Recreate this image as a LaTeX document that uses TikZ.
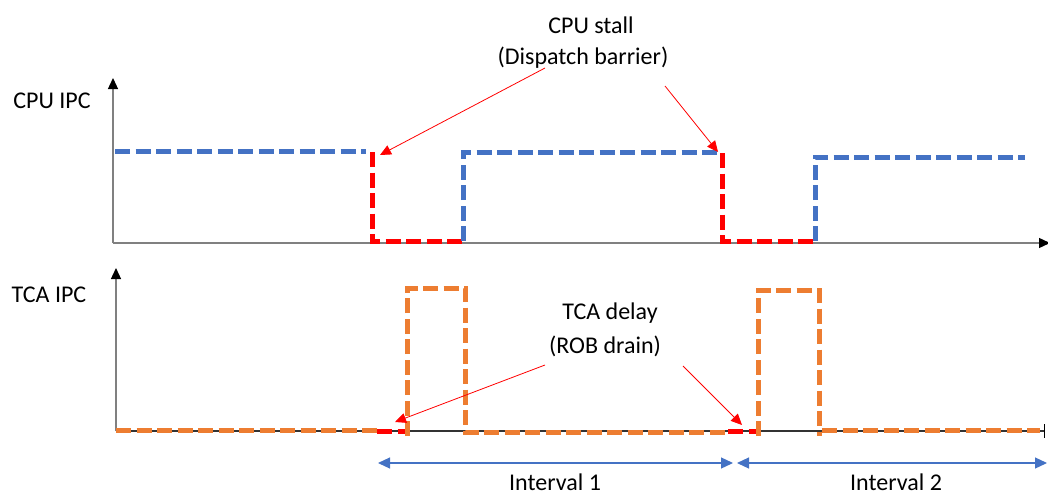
\documentclass[tikz,border=0pt]{standalone}
\usepackage{fontspec}
\setmainfont{Carlito}
\usetikzlibrary{arrows.meta}
\definecolor{cblue}{HTML}{4472C4}
\definecolor{corange}{HTML}{ED7D31}
\definecolor{cred}{HTML}{FF0000}
\definecolor{caxis}{HTML}{808080}
\begin{document}
\begin{tikzpicture}[x=1pt,y=-1pt,
  sig/.style={line width=5pt, dash pattern=on 15pt off 5.5pt},
  axisline/.style={draw=caxis, line width=1.3pt},
  axarrow/.style={axisline, -{Triangle[length=11pt,width=10pt,color=black]}},
  ann/.style={draw=cred, line width=0.8pt, -{Triangle[length=11pt,width=10pt]}},
  ivl/.style={draw=cblue, line width=1.2pt, {Triangle[length=12pt,width=11pt]}-{Triangle[length=12pt,width=11pt]}},
  lbl/.style={font=\fontsize{24}{28}\selectfont, inner sep=0pt, anchor=center}]
\useasboundingbox (0,0) rectangle (1048,495);

% axes
\coordinate (cpuO) at (113,243);
\coordinate (cpuY) at (113,78);
\coordinate (cpuX) at (1050,243);
\draw[axarrow] (cpuO) -- (cpuY);
\draw[axarrow] (cpuO) -- (cpuX);
\coordinate (tcaO) at (116,431);
\coordinate (tcaY) at (116,268);
\coordinate (tcaX) at (1045,431);
\draw[axarrow] (tcaO) -- (tcaY);
\draw[axisline, draw=black!80, -{Bar[width=14pt,color=black]}] (tcaO) -- (tcaX);

% CPU IPC signal
\draw[sig,cblue] (115,151) -- (366,151);
\draw[sig,cred] (372,152) -- (372,241) -- (462,241);
\draw[sig,cblue] (463,241) -- (463,152) -- (720,152);
\draw[sig,cred] (722,153) -- (722,241) -- (815,241);
\draw[sig,cblue] (815,241) -- (815,157) -- (1025,157);

% TCA IPC signal
\draw[sig,corange] (116,430) -- (377,430);
\draw[sig,cred] (377,431) -- (407,431);
\draw[sig,corange] (407,436) -- (407,288) -- (465,288) -- (465,432) -- (728,432);
\draw[sig,cred] (728,431) -- (760,431);
\draw[sig,corange] (758,436) -- (758,290) -- (819,290) -- (819,436);
\draw[sig,corange] (822,430) -- (1040,430);

% labels
\node[lbl] (cpuipc) at (52,101) {CPU IPC};
\node[lbl] (tcaipc) at (49,295) {TCA IPC};
\node[lbl] (stall) at (591,25) {CPU stall};
\node[lbl] (disp) at (583,58) {(Dispatch barrier)};
\node[lbl] (tcad) at (610,313) {TCA delay};
\node[lbl] (rob) at (605,346) {(ROB drain)};
\node[lbl] (int1) at (555,482) {Interval 1};
\node[lbl] (int2) at (896,482) {Interval 2};

% annotation arrows
\coordinate (a1s) at (545,68);
\coordinate (a1e) at (380,155);
\coordinate (a2s) at (665,86);
\coordinate (a2e) at (718,152);
\coordinate (a3s) at (545,365);
\coordinate (a3e) at (395,422);
\coordinate (a4s) at (683,366);
\coordinate (a4e) at (742,425);
\draw[ann] (a1s) -- (a1e);
\draw[ann] (a2s) -- (a2e);
\draw[ann] (a3s) -- (a3e);
\draw[ann] (a4s) -- (a4e);

% intervals
\coordinate (i1s) at (378,463);
\coordinate (i1e) at (733,463);
\coordinate (i2s) at (737,463);
\coordinate (i2e) at (1047,463);
\draw[ivl] (i1s) -- (i1e);
\draw[ivl] (i2s) -- (i2e);
\end{tikzpicture}
\end{document}
